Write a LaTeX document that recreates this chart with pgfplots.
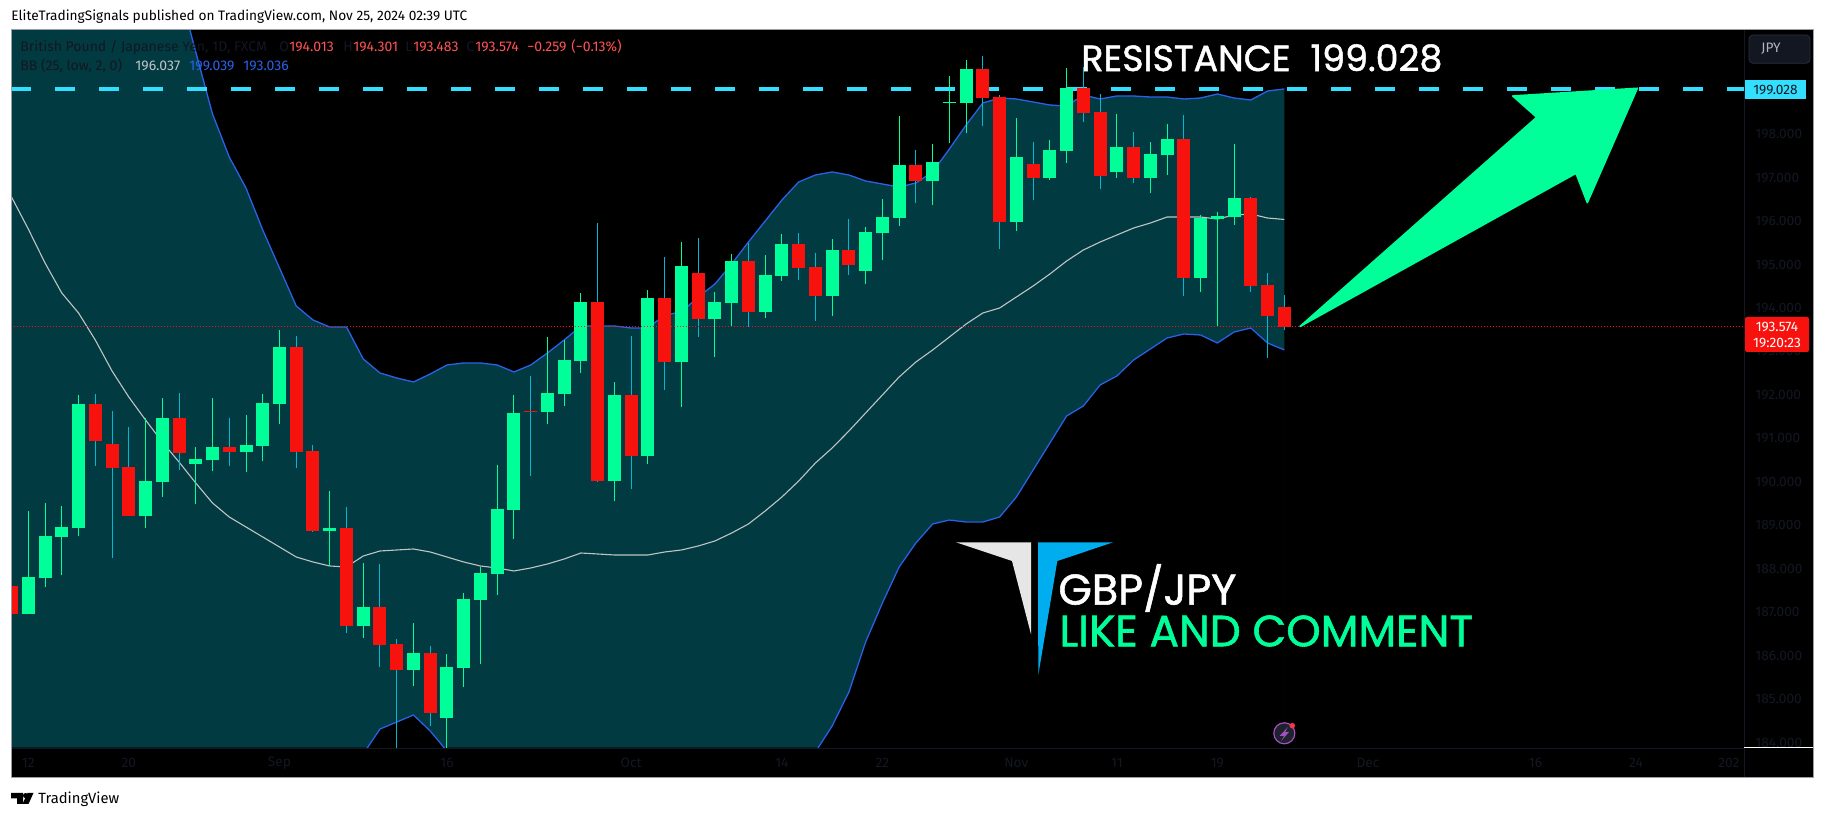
\documentclass[border=0pt]{standalone}
\usepackage{fontspec}
\usepackage{pgfplots}
\usepackage{pgfplotstable}
\pgfplotsset{compat=1.18}
\setmainfont{Fira Sans}
\newfontfamily\geo[FakeBold=1.3]{Poppins}

\definecolor{upc}{HTML}{00FF99}
\definecolor{downc}{HTML}{F7120E}
\definecolor{wickdown}{HTML}{00B8D4}
\definecolor{band}{HTML}{023A42}
\definecolor{bbblue}{HTML}{2962E8}
\definecolor{basis}{HTML}{BFC4C4}
\definecolor{resist}{HTML}{33DFFF}
\definecolor{faint}{HTML}{131722}
\definecolor{legred}{HTML}{FF5252}
\definecolor{frame}{HTML}{9A9DA3}
\definecolor{logow}{HTML}{E6E6E6}
\definecolor{logob}{HTML}{00ADEF}
\definecolor{icond}{HTML}{1E222D}
\definecolor{iconp}{HTML}{A24FBF}
\definecolor{iconr}{HTML}{F23645}
\definecolor{btnb}{HTML}{2A2E39}
\definecolor{btnt}{HTML}{B2B5BE}

\newcommand{\fs}[1]{\fontsize{#1}{#1}\selectfont}

% i low bottom top high
\pgfplotstableread{
i l b t h
1 186.961 186.961 187.812 189.330
2 187.582 187.789 188.755 189.514
3 187.858 188.732 188.962 189.445
4 188.755 188.939 191.792 191.999
8 188.939 189.215 190.020 191.470
9 189.652 189.997 191.470 191.930
11 189.491 190.411 190.526 190.802
12 190.250 190.503 190.802 191.930
14 190.227 190.687 190.848 191.539
15 190.480 190.825 191.815 192.022
16 191.332 191.792 193.103 193.494
19 188.065 188.870 188.939 189.790
21 186.409 186.685 187.122 188.134
24 185.305 185.673 186.064 186.754
26 183.850 184.568 185.742 186.041
27 185.281 185.718 187.306 187.444
28 185.810 187.283 187.904 188.042
29 187.397 187.880 189.376 190.388
30 188.686 189.353 191.584 191.998
32 191.331 191.607 192.044 193.332
33 191.745 192.021 192.803 193.263
34 192.504 192.780 194.138 194.345
36 189.560 190.020 191.998 192.297
38 190.411 190.595 194.230 194.414
40 191.722 192.757 194.966 195.518
42 192.872 193.747 194.138 194.368
43 193.585 194.115 195.081 195.242
45 193.770 193.908 194.759 195.219
46 194.621 194.736 195.472 195.702
49 193.816 194.276 195.334 195.587
51 194.552 194.851 195.748 195.863
52 195.104 195.725 196.093 196.507
53 195.886 196.070 197.289 198.417
55 196.369 196.921 197.358 197.773
56 197.796 198.723 198.739 199.337
57 198.026 198.716 199.498 199.705
60 195.771 195.978 197.473 198.371
62 196.944 196.990 197.635 197.865
63 197.335 197.612 199.061 199.521
66 196.990 197.128 197.704 198.463
68 196.645 196.990 197.542 197.819
69 197.059 197.519 197.888 198.233
71 194.368 194.690 196.070 196.139
72 193.586 196.047 196.116 196.208
73 195.909 196.093 196.530 197.773
}\upT

\pgfplotstableread{
i l b t h
0 186.478 186.961 187.605 188.433
5 190.365 190.941 191.792 192.022
6 188.249 190.319 190.871 191.631
7 189.215 189.215 190.342 191.263
10 190.273 190.664 191.470 192.045
13 190.365 190.687 190.802 191.470
17 190.319 190.687 193.103 193.356
18 188.847 188.870 190.710 190.848
20 186.524 186.685 188.939 189.422
22 185.742 186.248 187.122 188.111
23 183.700 185.673 186.271 186.386
25 184.384 184.683 186.064 186.225
31 190.135 191.615 191.630 192.435
35 189.997 190.020 194.138 195.955
37 189.836 190.595 191.998 193.355
39 192.113 192.757 194.230 195.173
41 193.332 193.747 194.805 195.610
44 193.562 193.908 195.081 195.495
47 194.644 194.920 195.472 195.725
48 193.701 194.276 194.943 195.265
50 194.759 194.989 195.334 196.047
54 196.415 196.921 197.289 197.635
58 198.187 198.831 199.498 199.797
59 195.357 195.978 198.854 198.900
61 196.484 196.990 197.312 197.819
64 198.279 198.486 199.061 199.544
65 196.737 197.036 198.509 198.923
67 196.875 196.990 197.704 198.049
70 194.276 194.690 197.888 198.440
74 194.368 194.506 196.530 196.553
75 192.850 193.816 194.529 194.805
76 193.483 193.574 194.013 194.301
}\downT

% Bollinger bands: i upper basis lower
\pgfplotstableread{
i u m d
-1 206.000 197.300 181.000
0 206.000 196.553 181.000
1 206.000 195.817 181.000
2 206.000 195.035 181.000
3 206.000 194.345 181.000
4 206.000 193.885 181.000
5 206.000 193.264 181.000
6 206.000 192.551 181.000
7 206.000 191.953 181.000
8 205.000 191.424 181.000
9 202.500 190.917 181.000
10 201.338 190.457 181.000
11 199.889 189.974 181.000
12 198.463 189.514 181.000
13 197.474 189.192 181.000
14 196.760 188.962 181.000
15 195.794 188.732 181.000
16 194.920 188.502 181.000
17 194.046 188.272 181.000
18 193.724 188.157 181.000
19 193.563 188.065 181.000
20 193.563 188.042 183.142
21 192.827 188.295 183.740
22 192.505 188.410 184.315
23 192.390 188.433 184.476
24 192.298 188.456 184.637
25 192.482 188.387 184.269
26 192.689 188.272 183.809
27 192.735 188.157 182.700
28 192.735 188.065 182.000
29 192.689 188.019 182.000
30 192.528 187.950 182.000
31 192.689 188.019 182.000
32 192.965 188.111 182.000
33 193.264 188.226 182.000
34 193.586 188.364 182.000
35 193.586 188.341 182.000
36 193.586 188.318 182.000
37 193.540 188.318 182.000
38 193.540 188.318 182.000
39 193.839 188.387 182.000
40 193.908 188.433 182.000
41 194.253 188.525 182.000
42 194.552 188.640 182.000
43 195.012 188.824 182.000
44 195.518 189.031 182.000
45 196.001 189.330 182.000
46 196.484 189.652 182.000
47 196.899 190.020 183.030
48 197.060 190.434 183.786
49 197.129 190.779 184.384
50 197.060 191.170 185.166
51 196.922 191.585 186.317
52 196.852 191.999 187.214
53 196.783 192.413 188.042
54 196.876 192.758 188.594
55 197.129 193.034 189.031
56 197.658 193.333 189.123
57 198.210 193.632 189.077
58 198.716 193.885 189.077
59 198.831 194.000 189.192
60 198.808 194.253 189.652
61 198.739 194.506 190.273
62 198.670 194.782 190.894
63 198.647 195.081 191.516
64 198.900 195.334 191.746
65 198.808 195.518 192.229
66 198.877 195.679 192.436
67 198.877 195.840 192.804
68 198.854 195.955 193.057
69 198.854 196.093 193.310
70 198.808 196.093 193.402
71 198.831 196.093 193.379
72 198.923 196.047 193.195
73 198.831 196.139 193.448
74 198.785 196.162 193.540
75 198.992 196.070 193.195
76 199.039 196.037 193.036
}\bbT

\pgfplotsset{
  stick/.style 2 args={draw=none, mark=none, forget plot,
    error bars/.cd, y dir=plus, y explicit, error mark=none,
    error bar style={line width=#1, draw=#2}},
}

\begin{document}
\begin{tikzpicture}
\fill[white] (0,0) rectangle (912pt,409pt);
\fill[black] (5.5pt,20pt) rectangle (906.5pt,394pt);

\begin{axis}[
  at={(5.5pt,35pt)}, anchor=south west,
  scale only axis, width=866.5pt, height=358.75pt,
  xmin=-0.033, xmax=103.45, ymin=183.878, ymax=200.384,
  axis line style={draw=none},
  major tick length=0pt,
  ytick={184,185,...,198},
  yticklabel pos=right,
  xtick={1,7,16,26,37,46,52,60,66,72,81,91,97,102.55},
  xticklabels={12,20,Sep,16,Oct,14,22,Nov,11,19,Dec,16,24,202},
  /pgf/number format/assume math mode=true,
  yticklabel style={/pgf/number format/fixed, /pgf/number format/fixed zerofill,
    /pgf/number format/precision=3, /pgf/number format/1000 sep={},
    font=\fs{6.85}, text=faint, anchor=west, inner sep=0pt, xshift=5.5pt},
  xticklabel style={font=\fs{6.85}, text=faint, anchor=center, inner sep=0pt, yshift=-7.5pt},
]
% band: everything under the upper line, then black under the lower line
\addplot[fill=band, draw=none, forget plot] table[x=i, y=u] {\bbT} \closedcycle;
\addplot[fill=black, draw=black, line width=.4pt, forget plot] table[x=i, y=d] {\bbT} \closedcycle;

\addplot[bbblue, line width=.65pt] table[x=i, y=u] {\bbT};
\addplot[bbblue, line width=.65pt] table[x=i, y=d] {\bbT};
\addplot[basis, line width=.55pt] table[x=i, y=m] {\bbT};

% resistance level
\addplot[resist, line width=2pt, dash pattern=on 10pt off 12pt] coordinates {(-0.033,199.028) (103.45,199.028)};

% wicks and bodies
\addplot[stick={.5pt}{upc}]
  table[x=i, y=l, y error plus expr=\thisrow{h}-\thisrow{l}] {\upT};
\addplot[stick={.5pt}{wickdown}]
  table[x=i, y=l, y error plus expr=\thisrow{h}-\thisrow{l}] {\downT};
\addplot[stick={6.5pt}{upc}]
  table[x=i, y=b, y error plus expr=\thisrow{t}-\thisrow{b}] {\upT};
\addplot[stick={6.5pt}{downc}]
  table[x=i, y=b, y error plus expr=\thisrow{t}-\thisrow{b}] {\downT};

% last price
\addplot[downc, line width=.5pt, dash pattern=on .7pt off .8pt] coordinates {(-0.033,193.574) (103.45,193.574)};
\end{axis}

% everything below in reference pixels
\begin{scope}[x=0.5pt, y=-0.5pt, yshift=409pt]
  \draw[faint, line width=.4pt] (1744,30) -- (1744,778);
  \draw[faint, line width=.4pt] (11,748) -- (1744,748);
  \draw[white, line width=.5pt] (1744,747.5) -- (1813,747.5);
  \draw[frame, line width=.5pt] (11,30) rectangle (1813,778);

  % arrow
  \fill[upc, draw=upc, line width=.8pt, line join=round]
    (1300,326.5) -- (1536.7,117.3) -- (1512.7,96) -- (1637.3,88.3)
    -- (1587.3,202.7) -- (1576,173.3) -- cycle;

  % logo
  \fill[logow] (956,542.3) -- (1031,542.3) -- (1031,634.3) -- (1012,561) -- cycle;
  \fill[logob] (1038,542.3) -- (1113.3,542.3) -- (1057.3,561) -- (1038.3,675) -- cycle;

  % bolt icon
  \filldraw[fill=icond, draw=iconp, line width=.6pt] (1284.3,733.3) circle[radius=10.5];
  \fill[iconp] (1288,727) -- (1279.5,736) -- (1284,736) -- (1281,741) -- (1289,732) -- (1285,732) -- cycle;
  \fill[iconr] (1292.3,725.7) circle[radius=2.8];

  % big texts
  \node[anchor=west, inner sep=0, white, font=\geo\fs{18.2}] at (1081,58) {RESISTANCE\hspace{.55em}199.028};
  \node[anchor=west, inner sep=0, white, font=\geo\fs{21.5}] at (1058,588) {GBP/JPY};
  \node[anchor=west, inner sep=0, upc, font=\geo\fs{21.9}] at (1059,631) {LIKE AND COMMENT};

  % legend rows
  \node[anchor=west, inner sep=0, faint, font=\fs{7}] at (20,47) {British Pound / Japanese Yen, 1D, FXCM};
  \node[anchor=west, inner sep=0, faint, font=\fs{7}] at (279,47) {O};
  \node[anchor=west, inner sep=0, legred, font=\fs{7}] at (289,47) {194.013};
  \node[anchor=west, inner sep=0, faint, font=\fs{7}] at (343,47) {H};
  \node[anchor=west, inner sep=0, legred, font=\fs{7}] at (353,47) {194.301};
  \node[anchor=west, inner sep=0, faint, font=\fs{7}] at (405,47) {L};
  \node[anchor=west, inner sep=0, legred, font=\fs{7}] at (413,47) {193.483};
  \node[anchor=west, inner sep=0, faint, font=\fs{7}] at (466,47) {C};
  \node[anchor=west, inner sep=0, legred, font=\fs{7}] at (475,47) {193.574};
  \node[anchor=west, inner sep=0, legred, font=\fs{7}] at (527,47) {−0.259};
  \node[anchor=west, inner sep=0, legred, font=\fs{7}] at (571,47) {(−0.13\%)};
  \node[anchor=west, inner sep=0, faint, font=\fs{7}] at (20,66) {BB (25, low, 2, 0)};
  \node[anchor=west, inner sep=0, basis, font=\fs{7}] at (135,66) {196.037};
  \node[anchor=west, inner sep=0, bbblue, font=\fs{7}] at (189,66) {199.039};
  \node[anchor=west, inner sep=0, bbblue, font=\fs{7}] at (243,66) {193.036};

  % price axis tags
  \fill[resist] (1745,80) rectangle (1806,99.3);
  \node[inner sep=0, faint, font=\fs{6.85}] at (1775.5,89.6) {199.028};
  \fill[downc, rounded corners=1pt] (1745,317) rectangle (1809,352);
  \node[inner sep=0, white, font=\fs{6.85}] at (1777,327.5) {193.574};
  \node[inner sep=0, white, font=\fs{6.85}] at (1777,343) {19:20:23};
  \filldraw[fill=faint, draw=btnb, line width=.4pt, rounded corners=2pt] (1749,35) rectangle (1810,63.3);
  \node[inner sep=0, btnt, font=\fs{6.85}] at (1771,49) {JPY};

  % header and footer
  \node[anchor=west, inner sep=0, black, font=\fs{6.85}] at (11,17) {EliteTradingSignals published on TradingView.com, Nov 25, 2024 02:39 UTC};
  \fill[black] (11,793) -- (23,793) -- (23,804) -- (17,804) -- (17,798.5) -- (11,798.5) -- cycle;
  \fill[black] (25.6,795.6) circle[radius=2.6];
  \fill[black] (33.5,793) -- (28.5,804) -- (22.5,804) -- (27.5,793) -- cycle;
  \node[anchor=west, inner sep=0, black, font=\fs{7.4}] at (38,799) {TradingView};
\end{scope}
\pgfresetboundingbox
\path[use as bounding box] (0,0) rectangle (912pt,409pt);
\end{tikzpicture}
\end{document}
